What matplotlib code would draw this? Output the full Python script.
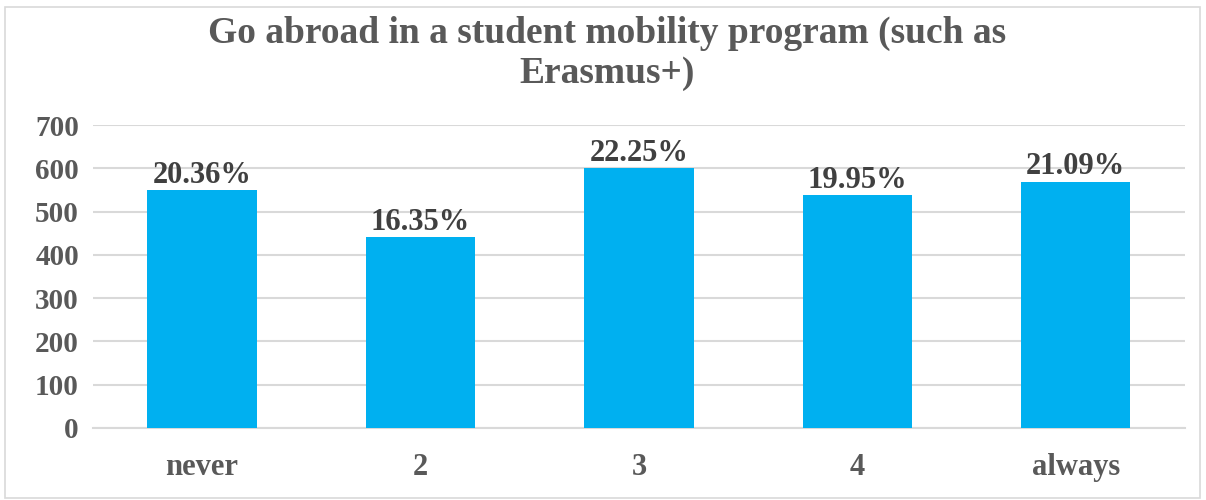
import matplotlib.pyplot as plt
from matplotlib.patches import Rectangle

categories = ['never', '2', '3', '4', 'always']
counts = [549, 441, 600, 538, 569]
shares = [20.36, 16.35, 22.25, 19.95, 21.09]
yticks = [0, 100, 200, 300, 400, 500, 600, 700]

plt.rcParams['font.family'] = ['Liberation Serif', 'DejaVu Serif']
plt.rcParams['font.weight'] = 'bold'

fig = plt.figure(figsize=(12.06, 5.0), dpi=100)
ax = fig.add_axes([0.077, 0.144, 0.9056, 0.606])

# outer chart frame
fig.patches.append(Rectangle((0.004, 0.004), 0.991, 0.982, transform=fig.transFigure,
                             fill=False, edgecolor='#d9d9d9', linewidth=1.2))

bars = ax.bar(range(len(categories)), counts, width=0.5, color='#00b0f0', zorder=3)
for b, s in zip(bars, shares):
    ax.text(b.get_x() + b.get_width() / 2, b.get_height() + 1, f'{s:.2f}%',
            ha='center', va='bottom', fontsize=22, fontweight='bold', color='#404040')

ax.set_xlim(-0.5, len(categories) - 0.5)
ax.set_ylim(0, 700)
ax.set_yticks(yticks)
ax.set_xticks(range(len(categories)))
ax.set_xticklabels(categories)
ax.tick_params(axis='both', length=0, labelcolor='#595959')
ax.tick_params(axis='x', pad=18, labelsize=22)
ax.tick_params(axis='y', pad=10, labelsize=21)
ax.grid(axis='y', color='#d9d9d9', linewidth=1.5, zorder=0)
for side in ['top', 'right', 'left']:
    ax.spines[side].set_visible(False)
ax.spines['bottom'].set_color('#d9d9d9')
ax.spines['bottom'].set_linewidth(1.5)

fig.text(0.503, 0.893, 'Go abroad in a student mobility program (such as\nErasmus+)',
         ha='center', va='center', fontsize=27, fontweight='bold', color='#595959',
         linespacing=1.15)

fig.savefig('out.png', dpi=100)
